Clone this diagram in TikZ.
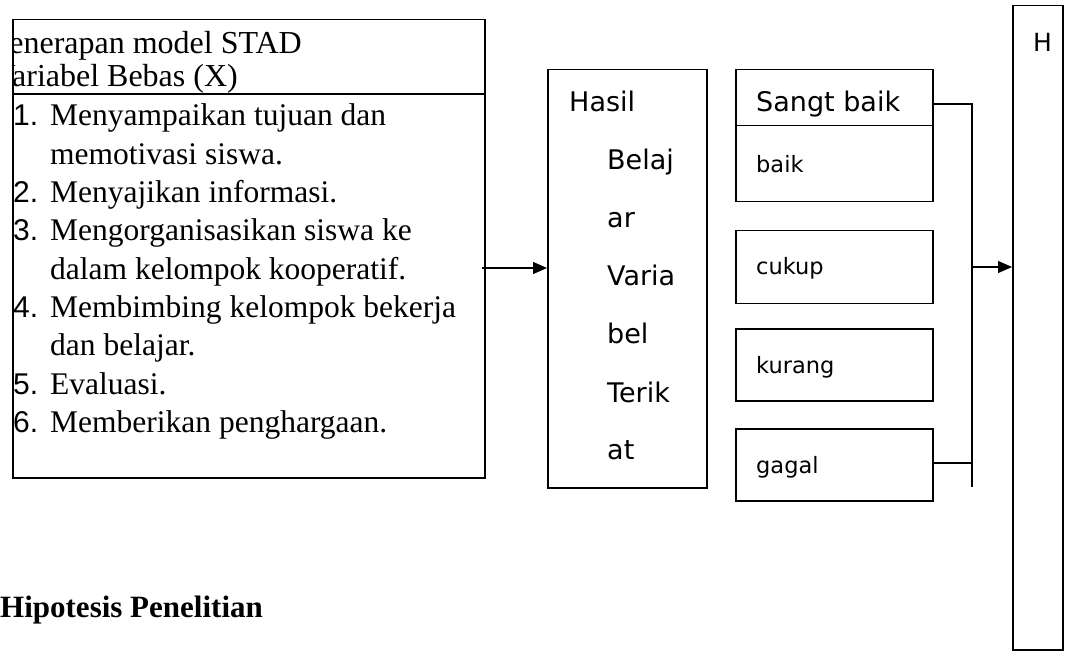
\documentclass[tikz,border=0pt]{standalone}
\usepackage{fontspec}
\setmainfont{Liberation Serif}
\newfontfamily\dvs{DejaVu Sans}
\newfontfamily\lsans{Liberation Sans}
\usetikzlibrary{arrows.meta}
\newcommand\tnrsize{\fontsize{31.5}{38}\selectfont}
\newcommand\hdrsize{\fontsize{32}{38}\selectfont}
\newcommand\numsize{\lsans\fontsize{30}{34}\selectfont}
\newcommand\bigsans{\dvs\fontsize{27}{32}\selectfont}
\newcommand\smallsans{\dvs\fontsize{22.5}{27}\selectfont}
\begin{document}
\begin{tikzpicture}[x=1pt,y=-1pt,
  box/.style={draw,line width=1.5pt,rectangle,inner sep=0pt,anchor=north west},
  conn/.style={line width=1.3pt},
  arr/.style={line width=1.3pt,-{Triangle[length=14pt,width=12pt]}},
  txt/.style={inner sep=0pt,anchor=base west},
  ser/.style={txt,font=\tnrsize},
  hdr/.style={inner sep=0pt,anchor=base east,font=\hdrsize},
  num/.style={txt,font=\numsize},
  hs/.style={txt,font=\bigsans},
  ss/.style={txt,font=\smallsans}]
\useasboundingbox (0,0) rectangle (1069,655);
\fill[white] (0,0) rectangle (1069,655);

% left box
\node[box,minimum width=472pt,minimum height=458pt] (lb) at (12,19) {};
\coordinate (dv) at (0,94);
\draw[line width=1.5pt] (lb.west |- dv) -- (lb.east |- dv);
\begin{scope}
\clip (12,19) rectangle (484,477);
\node[hdr] (h1) at (302,54) {Penerapan model STAD};
\node[hdr] (h2) at (238,87) {Variabel Bebas (X)};
\node[num] (n1) at (13,126) {1.};
\node[ser] (t1) at (50,126) {Menyampaikan tujuan dan};
\node[ser] (t1b) at (50,164.3) {memotivasi siswa.};
\node[num] (n2) at (13,202.6) {2.};
\node[ser] (t2) at (50,202.6) {Menyajikan informasi.};
\node[num] (n3) at (13,240.9) {3.};
\node[ser] (t3) at (50,240.9) {Mengorganisasikan siswa ke};
\node[ser] (t3b) at (50,279.2) {dalam kelompok kooperatif.};
\node[num] (n4) at (13,317.5) {4.};
\node[ser] (t4) at (50,317.5) {Membimbing kelompok bekerja};
\node[ser] (t4b) at (50,355.8) {dan belajar.};
\node[num] (n5) at (13,394.1) {5.};
\node[ser] (t5) at (50,394.1) {Evaluasi.};
\node[num] (n6) at (13,432.4) {6.};
\node[ser] (t6) at (50,432.4) {Memberikan penghargaan.};
\end{scope}

% Hasil box
\node[box,minimum width=159pt,minimum height=418pt] (hb) at (547,69) {};
\node[hs] (w1) at (569,112) {Hasil};
\node[hs] (w2) at (607,170) {Belaj};
\node[hs] (w3) at (607,228) {ar};
\node[hs] (w4) at (607,286) {Varia};
\node[hs] (w5) at (607,344) {bel};
\node[hs] (w6) at (607,402) {Terik};
\node[hs] (w7) at (607,459) {at};

\coordinate (a1) at (482,268);
\draw[arr] (a1) -- (a1 -| hb.west);

% category boxes
\node[box,minimum width=197pt,minimum height=56pt] (sb) at (735,69) {};
\node[box,minimum width=197pt,minimum height=76pt] (bk) at (735,125) {};
\node[box,minimum width=197pt,minimum height=73pt] (ck) at (735,230) {};
\node[box,minimum width=197pt,minimum height=72pt] (kr) at (735,328) {};
\node[box,minimum width=197pt,minimum height=72pt] (gg) at (735,428) {};
\node[hs] (lsb) at (756,112) {Sangt baik};
\node[ss] (lbk) at (756,173) {baik};
\node[ss] (lck) at (756,275) {cukup};
\node[ss] (lkr) at (756,373) {kurang};
\node[ss] (lgg) at (756,473) {gagal};

% H box
\node[box,minimum width=50pt,minimum height=644pt] (hh) at (1012,5) {};
\node[txt,font=\dvs\fontsize{25}{30}\selectfont] (lh) at (1033,52) {H};

% connectors
\coordinate (c1) at (932,104);
\coordinate (c2) at (932,463);
\coordinate (vt) at (972,104);
\coordinate (vb) at (972,487);
\coordinate (va) at (972,267);
\draw[conn] (c1) -- (vt) -- (vb);
\draw[conn] (c2) -- (c2 -| vt);
\draw[arr] (va) -- (va -| hh.west);

% heading
\node[txt,font=\fontsize{31}{37}\selectfont\bfseries] (hp) at (0,617) {Hipotesis Penelitian};
\end{tikzpicture}
\end{document}
